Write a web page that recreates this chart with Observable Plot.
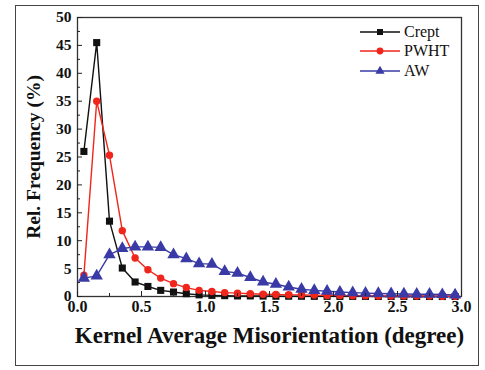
<!DOCTYPE html>
<html>
<head>
<meta charset="utf-8">
<script src="https://cdn.jsdelivr.net/npm/d3@7"></script>
<script src="https://cdn.jsdelivr.net/npm/@observablehq/plot@0.6"></script>
<style>
  html, body { margin: 0; padding: 0; background: #fff; }
  #wrap { position: relative; width: 485px; height: 370px; }
  #border { position: absolute; left: 15px; top: 5px; width: 464px; height: 361px; border: 1.5px solid #444; box-sizing: border-box; pointer-events: none; }
  #legend { position: absolute; left: 359px; top: 22px; font-family: "Liberation Serif", serif; font-size: 16px; color: #111; }
  .row { display: flex; align-items: center; height: 19.5px; }
  .row svg { margin-right: 3px; }
</style>
</head>
<body>
<div id="wrap"><div id="border"></div><div id="legend"></div></div>
<script>
const kam = [0.05,0.15,0.25,0.35,0.45,0.55,0.65,0.75,0.85,0.95,1.05,1.15,1.25,1.35,1.45,1.55,1.65,1.75,1.85,1.95,2.05,2.15,2.25,2.35,2.45,2.55,2.65,2.75,2.85,2.95];
const crept = [26,45.5,13.5,5.1,2.6,1.8,1.1,0.8,0.5,0.3,0.2,0.15,0.1,0.1,0.08,0.05,0.05,0.04,0.03,0.03,0.02,0.02,0.02,0.01,0.01,0.01,0.01,0,0,0];
const pwht = [3.8,35,25.3,11.8,6.9,4.8,3.3,2.3,1.6,1.1,0.9,0.7,0.6,0.5,0.4,0.35,0.3,0.3,0.25,0.2,0.2,0.15,0.15,0.1,0.1,0.1,0.08,0.08,0.05,0.05];
const aw = [3.3,3.7,7.5,8.6,8.9,8.9,8.8,7.5,6.8,5.9,5.8,4.5,4.2,3.4,2.6,2.2,1.7,1.3,1.1,0.95,0.8,0.7,0.6,0.55,0.5,0.45,0.4,0.4,0.35,0.3];
const seriesNames = ["Crept","PWHT","AW"];
const seriesColors = ["#111111","#f0251c","#3a3aa6"];
const seriesSymbols = ["square","circle","triangle"];
const seriesR = [4,3.7,4.6];
const xTicks = [0,0.5,1,1.5,2,2.5,3];
const yTicks = [0,5,10,15,20,25,30,35,40,45,50];
const xMinor = [0.25,0.75,1.25,1.75,2.25,2.75];
const yMinor = [2.5,7.5,12.5,17.5,22.5,27.5,32.5,37.5,42.5,47.5];
const xTitle = "Kernel Average Misorientation (degree)";
const yTitle = "Rel. Frequency (%)";

const allValues = [crept, pwht, aw];
const rows = [];
seriesNames.forEach((s, i) => kam.forEach((x, j) => rows.push({series: s, x, y: allValues[i][j]})));

const serif = "Liberation Serif, Times New Roman, serif";
const marks = [];
marks.push(Plot.frame({stroke: "#333", strokeWidth: 1.3}));
seriesNames.forEach((s, i) => {
  const d = rows.filter(r => r.series === s);
  marks.push(Plot.line(d, {x: "x", y: "y", stroke: seriesColors[i], strokeWidth: 1.4}));
  marks.push(Plot.dot(d, {x: "x", y: "y", symbol: () => seriesSymbols[i], r: seriesR[i], fill: seriesColors[i], stroke: "none"}));
});
marks.push(Plot.axisY({ticks: yTicks, tickSize: -5, tickPadding: 11, tickFormat: d => String(d), fontSize: 15.5, fontWeight: "bold", fontFamily: serif, fill: "#111", stroke: "#222", label: null}));
marks.push(Plot.axisY({ticks: yMinor, tickSize: -3, text: null, stroke: "#222", label: null}));
marks.push(Plot.axisX({ticks: xTicks, tickSize: -5, tickPadding: 9, tickFormat: d3.format(".1f"), fontSize: 16, fontWeight: "bold", fontFamily: serif, fill: "#111", stroke: "#222", label: null}));
marks.push(Plot.axisX({ticks: xMinor, tickSize: -3, text: null, stroke: "#222", label: null}));
marks.push(Plot.text([xTitle], {text: d => d, frameAnchor: "bottom", dy: 46, fontSize: 23, fontWeight: "bold", fontFamily: serif, fill: "#111"}));
marks.push(Plot.text([yTitle], {text: d => d, frameAnchor: "left", textAnchor: "middle", rotate: -90, dx: -44, fontSize: 19.5, fontWeight: "bold", fontFamily: serif, fill: "#111"}));

const chart = Plot.plot({
  width: 485, height: 370,
  marginLeft: 77, marginRight: 24, marginTop: 17, marginBottom: 74,
  x: {domain: [0, 3]},
  y: {domain: [0, 50]},
  style: {background: "transparent", overflow: "visible"},
  marks
});
chart.style.position = "absolute";
chart.style.left = "0px";
chart.style.top = "0px";
document.getElementById("wrap").insertBefore(chart, document.getElementById("border"));

// legend
const lg = d3.select("#legend");
seriesNames.forEach((s, i) => {
  const row = lg.append("div").attr("class", "row");
  const svg = row.append("svg").attr("width", 42).attr("height", 12);
  svg.append("line").attr("x1", 1).attr("x2", 41).attr("y1", 6).attr("y2", 6).attr("stroke", seriesColors[i]).attr("stroke-width", 1.3);
  const sym = {square: d3.symbolSquare, circle: d3.symbolCircle, triangle: d3.symbolTriangle}[seriesSymbols[i]];
  svg.append("path").attr("transform", "translate(21,6)").attr("d", d3.symbol(sym, Math.PI * 3.4 * 3.4)()).attr("fill", seriesColors[i]);
  row.append("span").text(s);
});
</script>
</body>
</html>
